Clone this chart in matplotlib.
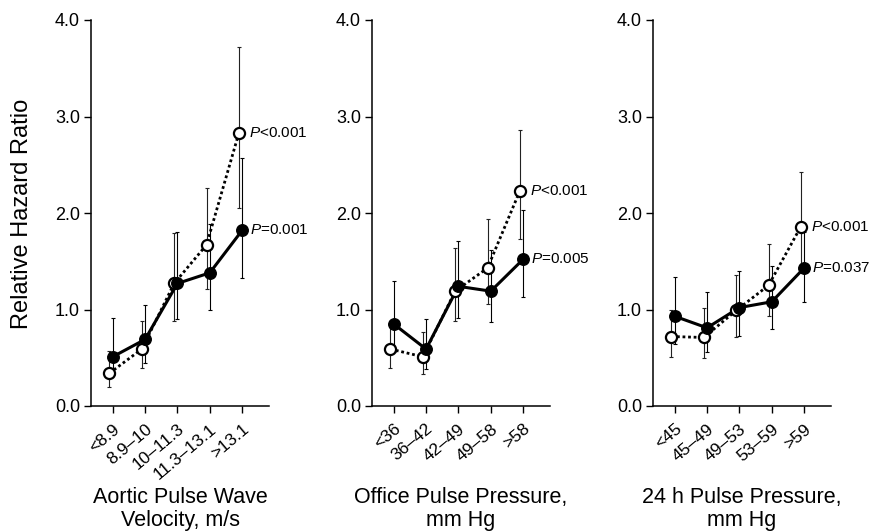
# Relative hazard ratio by quintile, three panels
import matplotlib
matplotlib.use("Agg")
import matplotlib.pyplot as plt

plt.rcParams["font.family"] = ["Liberation Sans", "DejaVu Sans"]
plt.rcParams["mathtext.fontset"] = "custom"
plt.rcParams["mathtext.it"] = "Liberation Sans:italic"
plt.rcParams["mathtext.rm"] = "Liberation Sans"

# Panel 1: aortic pulse wave velocity
pwv_labels = ["<8.9", "8.9–10", "10–11.3", "11.3–13.1", ">13.1"]
pwv_filled = [0.51, 0.69, 1.27, 1.38, 1.82]
pwv_filled_lo = [0.32, 0.45, 0.90, 1.00, 1.33]
pwv_filled_hi = [0.91, 1.05, 1.80, 1.89, 2.57]
pwv_open = [0.34, 0.59, 1.27, 1.67, 2.83]
pwv_open_lo = [0.20, 0.39, 0.88, 1.21, 2.05]
pwv_open_hi = [0.57, 0.88, 1.79, 2.26, 3.72]

# Panel 2: office pulse pressure
opp_labels = ["<36", "36–42", "42–49", "49–58", ">58"]
opp_filled = [0.85, 0.59, 1.24, 1.19, 1.52]
opp_filled_lo = [0.56, 0.38, 0.91, 0.87, 1.13]
opp_filled_hi = [1.30, 0.90, 1.71, 1.62, 2.03]
opp_open = [0.59, 0.51, 1.19, 1.43, 2.23]
opp_open_lo = [0.39, 0.33, 0.88, 1.06, 1.73]
opp_open_hi = [0.85, 0.77, 1.64, 1.94, 2.86]

# Panel 3: 24 h pulse pressure
app_labels = ["<45", "45–49", "49–53", "53–59", ">59"]
app_filled = [0.93, 0.81, 1.02, 1.08, 1.43]
app_filled_lo = [0.64, 0.56, 0.73, 0.80, 1.08]
app_filled_hi = [1.34, 1.18, 1.40, 1.45, 1.80]
app_open = [0.72, 0.71, 0.99, 1.25, 1.86]
app_open_lo = [0.51, 0.50, 0.72, 0.93, 1.45]
app_open_hi = [1.00, 1.02, 1.36, 1.68, 2.42]

titles = ["Aortic Pulse Wave\nVelocity, m/s",
          "Office Pulse Pressure,\nmm Hg",
          "24 h Pulse Pressure,\nmm Hg"]
p_open = ["$P$<0.001", "$P$<0.001", "$P$<0.001"]
p_filled = ["$P$=0.001", "$P$=0.005", "$P$=0.037"]

panels = [
    (pwv_labels, pwv_filled, pwv_filled_lo, pwv_filled_hi, pwv_open, pwv_open_lo, pwv_open_hi),
    (opp_labels, opp_filled, opp_filled_lo, opp_filled_hi, opp_open, opp_open_lo, opp_open_hi),
    (app_labels, app_filled, app_filled_lo, app_filled_hi, app_open, app_open_lo, app_open_hi),
]

W, H = 871, 532
fig = plt.figure(figsize=(W / 100, H / 100), dpi=100)
lefts = [91, 372, 653]

for i, (labels, f, flo, fhi, o, olo, ohi) in enumerate(panels):
    ax = fig.add_axes([lefts[i] / W, 1 - 406 / H, 178 / W, 386 / H])
    x = list(range(len(labels)))
    xo = [v - 0.1 for v in x]

    ax.errorbar(x, f, yerr=[[a - b for a, b in zip(f, flo)], [b - a for a, b in zip(f, fhi)]],
                fmt="none", ecolor="black", elinewidth=0.8, capsize=1.6, capthick=0.8, zorder=1)
    ax.errorbar(xo, o, yerr=[[a - b for a, b in zip(o, olo)], [b - a for a, b in zip(o, ohi)]],
                fmt="none", ecolor="#222222", elinewidth=0.8, capsize=1.6, capthick=0.8, zorder=1)

    ax.plot(xo, o, linestyle=(0, (1, 1)), color="black", linewidth=2.0, zorder=2)
    ax.plot(x, f, linestyle="-", color="black", linewidth=2.2, zorder=3)
    ax.plot(xo, o, linestyle="none", marker="o", markersize=8, markerfacecolor="white",
            markeredgecolor="black", markeredgewidth=1.6, zorder=4, clip_on=False)
    ax.plot(x, f, linestyle="none", marker="o", markersize=8.3, markerfacecolor="black",
            markeredgecolor="black", zorder=5, clip_on=False)

    ax.annotate(p_open[i], (xo[-1], o[-1]), xytext=(7, 0), textcoords="offset points",
                ha="left", va="center", fontsize=11)
    ax.annotate(p_filled[i], (x[-1], f[-1]), xytext=(6, 0), textcoords="offset points",
                ha="left", va="center", fontsize=11)

    ax.set_xlim(-0.67, 4.83)
    ax.set_ylim(0, 4)
    ax.set_yticks([0, 1, 2, 3, 4])
    ax.set_yticklabels(["0.0", "1.0", "2.0", "3.0", "4.0"], fontsize=13)
    ax.set_xticks(x)
    ax.set_xticklabels(labels, fontsize=12.5, rotation=40, ha="right", rotation_mode="anchor")
    ax.tick_params(axis="both", direction="out", length=5, width=1, pad=3)
    ax.tick_params(axis="x", pad=6)
    for side in ["top", "right"]:
        ax.spines[side].set_visible(False)
    for side in ["left", "bottom"]:
        ax.spines[side].set_linewidth(1.1)

    ax.text(0.5, 1 - (509 - 20) / 386, titles[i], transform=ax.transAxes,
            ha="center", va="center", fontsize=15.5, linespacing=1.15)

fig.text(22 / W, 1 - 214 / H, "Relative Hazard Ratio", rotation=90,
         ha="center", va="center", fontsize=17)

fig.savefig("out.png", dpi=100)
